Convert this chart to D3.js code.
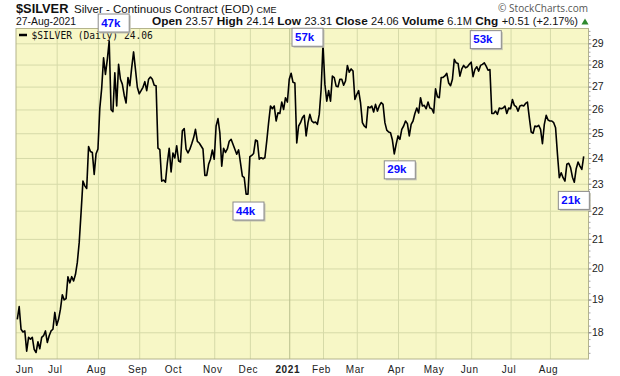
<!DOCTYPE html>
<html>
<head>
<meta charset="utf-8">
<script src="https://cdn.jsdelivr.net/npm/d3@7"></script>
<style>
  body { margin: 0; background: #fff; }
  svg { display: block; font-family: "Liberation Sans", Arial, sans-serif; }
  .axis path { display: none; }
</style>
</head>
<body>
<svg id="chart" width="620" height="376"></svg>
<script>
// daily closes, Jun 2020 .. 27 Aug 2021
const closes = [
  18.39, 18.78, 18.09, 18.01, 18.04, 17.45, 17.85, 17.80, 17.85, 17.50,
  17.41, 17.72, 17.52, 17.85, 17.90, 18.04, 17.70, 17.90, 18.04, 18.09,
  18.60, 18.21, 18.39, 18.70, 19.15, 18.99, 19.03, 19.73, 19.53, 19.73,
  19.59, 19.80, 20.20, 20.87, 21.93, 23.10, 22.92, 22.82, 24.46, 24.26,
  24.22, 23.36, 24.17, 24.36, 26.06, 26.93, 28.31, 27.55, 28.24, 29.11,
  25.99, 25.91, 27.62, 26.15, 28.01, 27.33, 27.11, 26.62, 26.28, 27.41,
  27.04, 27.86, 28.59, 27.78, 26.97, 26.68, 26.82, 26.97, 27.22, 26.82,
  27.33, 27.43, 27.33, 27.06, 27.04, 24.39, 24.33, 23.10, 23.14, 23.06,
  23.81, 24.39, 23.45, 24.20, 24.00, 24.49, 23.88, 23.84, 25.10, 25.19,
  24.35, 24.20, 24.35, 24.57, 24.81, 25.16, 24.67, 24.60, 24.48, 24.36,
  23.32, 23.32, 23.75, 23.95, 24.32, 23.95, 25.30, 25.61, 25.02, 23.68,
  24.39, 24.22, 24.36, 24.67, 24.75, 24.55, 24.35, 24.15, 24.32, 23.81,
  23.29, 23.23, 22.61, 22.61, 24.05, 24.10, 24.18, 24.72, 24.68, 23.95,
  24.01, 23.97, 24.01, 24.68, 25.44, 26.15, 26.03, 26.15, 25.51, 25.86,
  25.83, 26.32, 26.00, 26.51, 26.32, 27.33, 27.60, 27.19, 27.16, 24.60,
  25.30, 25.44, 25.65, 25.75, 24.89, 25.44, 25.79, 25.51, 25.44, 25.47,
  25.37, 25.79, 26.88, 28.95, 27.11, 26.36, 26.82, 26.36, 27.47, 27.40,
  27.02, 26.99, 27.33, 27.33, 27.06, 27.25, 27.96, 27.65, 27.80, 27.70,
  26.43, 26.65, 26.82, 26.30, 25.44, 25.30, 25.23, 26.12, 26.07, 26.15,
  25.89, 26.22, 25.93, 26.15, 26.30, 26.22, 25.44, 25.13, 25.05, 25.02,
  24.72, 24.16, 24.55, 24.89, 24.75, 25.16, 25.30, 25.51, 25.40, 24.89,
  25.37, 25.51, 25.83, 26.06, 25.85, 26.51, 26.15, 26.18, 26.03, 26.32,
  26.06, 26.03, 25.85, 26.90, 26.55, 26.51, 27.41, 27.41, 27.48, 27.60,
  27.16, 27.04, 27.33, 28.24, 28.08, 28.05, 27.47, 27.80, 27.96, 27.85,
  27.90, 28.01, 28.11, 27.45, 27.78, 27.90, 27.70, 27.96, 28.01, 28.08,
  27.93, 27.74, 27.77, 25.83, 25.83, 25.93, 25.79, 26.06, 26.03, 26.06,
  26.15, 25.83, 26.06, 26.03, 26.43, 26.18, 26.12, 25.93, 26.15, 26.18,
  26.15, 26.26, 26.32, 25.65, 25.05, 25.00, 25.30, 25.27, 25.33, 25.16,
  24.57, 25.37, 25.75, 25.55, 25.51, 25.51, 25.44, 25.23, 24.16, 23.23,
  23.42, 23.23, 23.10, 23.75, 23.79, 23.62, 23.25, 23.06, 23.58, 23.84,
  23.68, 23.55, 24.06
];

// first session of each month (index into closes)
const monthLabels = ["Jun", "Jul", "Aug", "Sep", "Oct", "Nov", "Dec", "2021",
  "Feb", "Mar", "Apr", "May", "Jun", "Jul", "Aug"];
const monthStarts = [0, 21, 43, 65, 84, 105, 124, 145, 163, 181, 203, 223, 242, 263, 284];

const priceTicks = [18, 19, 20, 21, 22, 23, 24, 25, 26, 27, 28, 29];

// volume notes on swing highs / lows
const noteLabels = ["47k", "44k", "57k", "29k", "53k", "21k"];
const noteIndex = [49, 123, 163, 201, 249, 297];

const plot = { left: 16, right: 588.5, top: 28.5, bottom: 359 };
const svg = d3.select("#chart");

const x = d3.scaleLinear()
  .domain([0, closes.length - 1])
  .range([17.3, 583.7]);

const y = d3.scaleLog()
  .domain([17.224, 29.717])
  .range([plot.bottom, plot.top]);

// plot background
svg.append("rect")
  .attr("x", plot.left)
  .attr("y", plot.top)
  .attr("width", plot.right - plot.left)
  .attr("height", plot.bottom - plot.top)
  .attr("fill", "#f7f7c6");

// horizontal grid
svg.append("g")
  .attr("class", "axis")
  .attr("transform", `translate(${plot.left}, 0)`)
  .call(d3.axisRight(y).tickValues(priceTicks).tickSize(plot.right - plot.left).tickFormat(""))
  .selectAll("line")
  .attr("stroke", "#d6daa8");

// vertical grid (skip the first month, it sits on the border)
svg.append("g")
  .attr("class", "axis")
  .attr("transform", `translate(0, ${plot.top})`)
  .call(d3.axisBottom(x).tickValues(monthStarts.slice(1)).tickSize(plot.bottom - plot.top).tickFormat(""))
  .selectAll("line")
  .attr("stroke", (d) => (d === 145 ? "#b9bf8c" : "#d6daa8"));

// border
svg.append("rect")
  .attr("x", plot.left)
  .attr("y", plot.top)
  .attr("width", plot.right - plot.left)
  .attr("height", plot.bottom - plot.top)
  .attr("fill", "none")
  .attr("stroke", "#b4b48c")
  .attr("stroke-width", 1);

// right price axis
const minorTicks = d3.range(17.4, 29.7, 0.2);
svg.append("g")
  .attr("class", "axis")
  .attr("transform", `translate(${plot.right}, 0)`)
  .call(d3.axisRight(y).tickValues(minorTicks).tickSize(2).tickFormat(""))
  .selectAll("line")
  .attr("stroke", "#a8a8a8");

const yAxis = svg.append("g")
  .attr("class", "axis")
  .attr("transform", `translate(${plot.right}, 0)`)
  .call(d3.axisRight(y).tickValues(priceTicks).tickSize(3).tickPadding(0.5).tickFormat(d3.format("d")));
yAxis.selectAll("line").attr("stroke", "#888");
yAxis.selectAll("text")
  .attr("fill", "#222")
  .style("font-size", "10.5px")
  .style("font-family", "Liberation Sans, Arial, sans-serif");

// month labels
const xAxis = svg.append("g")
  .attr("class", "axis")
  .attr("transform", `translate(0, ${plot.bottom})`)
  .call(d3.axisBottom(x).tickValues(monthStarts).tickSize(0).tickPadding(7)
    .tickFormat((d, i) => monthLabels[i]));
xAxis.selectAll("text")
  .attr("fill", "#222")
  .attr("dx", (d, i) => (i === 0 ? 7 : -2))
  .style("font-size", "10px")
  .style("letter-spacing", "0.6px")
  .style("font-family", "Liberation Sans, Arial, sans-serif")
  .style("font-weight", (d, i) => (monthLabels[i] === "2021" ? "bold" : "normal"));

// legend
svg.append("line")
  .attr("x1", 19).attr("x2", 27)
  .attr("y1", 35).attr("y2", 35)
  .attr("stroke", "#000")
  .attr("stroke-width", 2.5);
svg.append("text")
  .attr("x", 31.5)
  .attr("y", 39)
  .attr("font-family", "DejaVu Sans Mono, monospace")
  .attr("font-size", 9.6)
  .attr("fill", "#111")
  .text("$SILVER (Daily) 24.06");

// price line
const line = d3.line()
  .x((d, i) => x(i))
  .y((d) => y(d));

svg.append("path")
  .datum(closes)
  .attr("d", line)
  .attr("fill", "none")
  .attr("stroke", "#000")
  .attr("stroke-width", 1.6)
  .attr("stroke-linejoin", "round");

// volume notes
const noteLayout = [
  { dx: 4, dy: -27.5 },
  { dx: 0, dy: 7.4 },
  { dx: -16, dy: -16.6 },
  { dx: 5, dy: 6.4 },
  { dx: 1, dy: -32.7 },
  { dx: -1, dy: 8.7 },
];
const noteW = 31, noteH = 18;

const notes = svg.selectAll(".note")
  .data(noteLabels)
  .enter()
  .append("g")
  .attr("class", "note")
  .attr("transform", (d, i) => {
    const idx = noteIndex[i];
    const left = x(idx) + noteLayout[i].dx - noteW / 2;
    const top = y(closes[idx]) + noteLayout[i].dy;
    return `translate(${left}, ${top})`;
  });

notes.append("rect")
  .attr("x", 2).attr("y", 2)
  .attr("width", noteW).attr("height", noteH)
  .attr("fill", "#c4c4b4");
notes.append("rect")
  .attr("x", 0.5).attr("y", 0.5)
  .attr("width", noteW).attr("height", noteH)
  .attr("fill", "#fff")
  .attr("stroke", "#8a8a8a");
notes.append("text")
  .attr("x", 3.5)
  .attr("y", 13)
  .attr("fill", "#0a0aff")
  .attr("font-weight", "bold")
  .attr("font-size", 11.5)
  .text((d) => d);

// header
svg.append("text")
  .attr("x", 16).attr("y", 12.5)
  .attr("font-weight", "bold")
  .attr("font-size", 12.8)
  .attr("fill", "#111")
  .text("$SILVER");
svg.append("text")
  .attr("x", 74).attr("y", 12.5)
  .attr("font-size", 11.5)
  .attr("fill", "#111")
  .text("Silver - Continuous Contract (EOD)");
svg.append("text")
  .attr("x", 256.5).attr("y", 12.5)
  .attr("font-size", 9)
  .attr("fill", "#111")
  .text("CME");
svg.append("text")
  .attr("x", 498).attr("y", 12)
  .attr("font-family", "Open Sans, sans-serif")
  .attr("font-size", 10)
  .attr("fill", "#555")
  .attr("textLength", 90)
  .text("\u00a9 StockCharts.com");

svg.append("text")
  .attr("x", 16).attr("y", 25)
  .attr("font-size", 10.4)
  .attr("fill", "#111")
  .text("27-Aug-2021");

const quote = [
  ["Open", "23.57"], ["High", "24.14"], ["Low", "23.31"], ["Close", "24.06"],
  ["Volume", "6.1M"], ["Chg", "+0.51 (+2.17%)"]
];
const q = svg.append("text")
  .attr("x", 152).attr("y", 25)
  .attr("font-size", 11)
  .attr("fill", "#111")
  .attr("textLength", 426)
  .attr("lengthAdjust", "spacing");
quote.forEach(([k, v], i) => {
  q.append("tspan").attr("font-weight", "bold").attr("font-size", 11.8)
    .text((i ? " " : "") + k + " ");
  q.append("tspan").text(v);
});

// green up arrow
svg.append("path")
  .attr("d", d3.symbol().type(d3.symbolTriangle).size(22)())
  .attr("transform", "translate(585, 22.5)")
  .attr("fill", "#2f8a2f");
</script>
</body>
</html>
